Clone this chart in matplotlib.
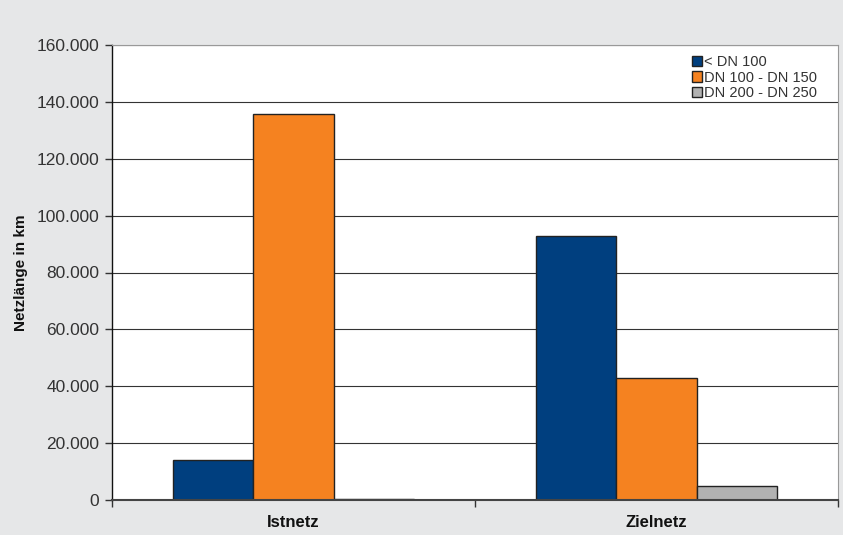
import numpy as np
import matplotlib
matplotlib.use("Agg")
import matplotlib.pyplot as plt
from matplotlib.ticker import FuncFormatter

plt.rcParams["font.family"] = ["Liberation Sans", "DejaVu Sans"]

categories = ["Istnetz", "Zielnetz"]
series_names = ["< DN 100", "DN 100 - DN 150", "DN 200 - DN 250"]
values_dn100 = [14000, 92800]
values_dn150 = [135600, 43000]
values_dn250 = [300, 4800]

colors = ["#003f7f", "#f58220", "#b2b2b2"]
text_color = "#333333"

fig = plt.figure(figsize=(8.43, 5.35), dpi=100, facecolor="#e6e7e8")
ax = fig.add_axes([112 / 843, 35 / 535, 726 / 843, 455 / 535])
ax.set_facecolor("white")

x = np.arange(len(categories))
width = 0.2222
for i, (vals, name) in enumerate(zip([values_dn100, values_dn150, values_dn250], series_names)):
    ax.bar(x + (i - 1) * width, vals, width, color=colors[i], edgecolor="#222222",
           linewidth=1.0, label=name, zorder=3)

ax.set_xlim(-0.5, 1.5)
ax.set_ylim(0, 160000)
ax.set_yticks(np.arange(0, 160001, 20000))
ax.yaxis.set_major_formatter(FuncFormatter(lambda v, p: f"{int(v):,}".replace(",", ".")))
ax.grid(axis="y", color="#333333", linewidth=0.8, zorder=0)

ax.set_xticks(x)
ax.set_xticklabels(categories, fontweight="bold", fontsize=12, color="#111111")
ax.set_xticks([-0.5, 0.5, 1.5], minor=True)
ax.tick_params(axis="x", which="major", length=0, pad=11)
ax.tick_params(axis="x", which="minor", length=5, width=1, color="#333333")
ax.tick_params(axis="y", length=5, width=1, color="#333333", labelsize=12.5, labelcolor=text_color, pad=4)

ax.set_ylabel("Netzlänge in km", fontweight="bold", fontsize=11, color="#111111", labelpad=6)

ax.spines["left"].set_color("#111111")
ax.spines["left"].set_linewidth(1.0)
ax.spines["bottom"].set_color("#444444")
ax.spines["bottom"].set_linewidth(1.5)
ax.spines["bottom"].set_zorder(4)
ax.spines["top"].set_color("#999999")
ax.spines["top"].set_linewidth(0.8)
ax.spines["right"].set_color("#999999")
ax.spines["right"].set_linewidth(0.8)

ax.legend(loc="upper right", frameon=False, fontsize=10.5, handlelength=0.7, handleheight=0.7,
          handletextpad=0.1, labelspacing=0.1, borderaxespad=0.3, bbox_to_anchor=(0.985, 1.0),
          labelcolor=text_color)

fig.savefig("out.png", dpi=100, facecolor=fig.get_facecolor())
